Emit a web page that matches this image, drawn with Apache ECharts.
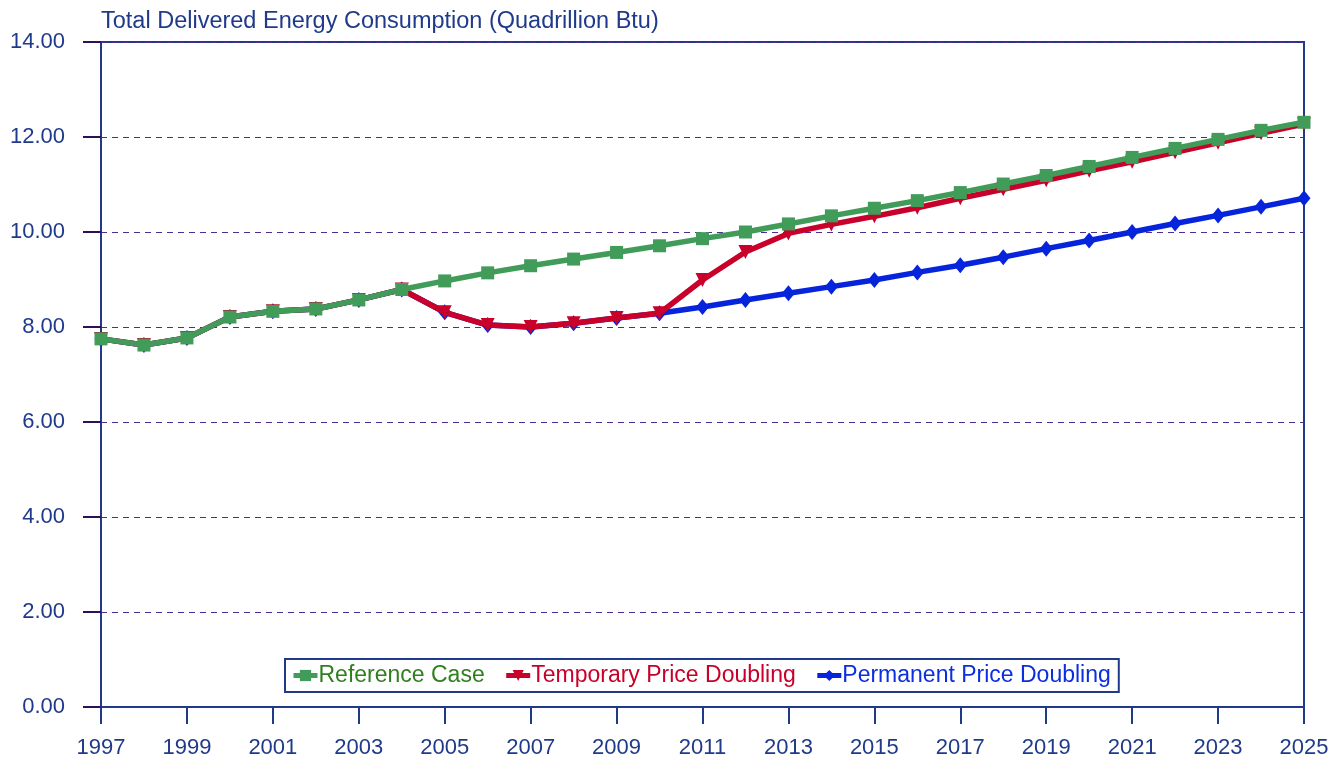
<!DOCTYPE html>
<html>
<head>
<meta charset="utf-8">
<style>
  html, body { margin: 0; padding: 0; background: #fff; }
  #chart { width: 1341px; height: 761px; }
</style>
<script src="https://cdn.jsdelivr.net/npm/echarts@6/dist/echarts.min.js"></script>
</head>
<body>
<div id="chart"></div>
<script>
const years = ['1997','1998','1999','2000','2001','2002','2003','2004','2005','2006','2007','2008','2009','2010',
  '2011','2012','2013','2014','2015','2016','2017','2018','2019','2020','2021','2022','2023','2024','2025']

const referenceCase = [7.75, 7.62, 7.77, 8.21, 8.33, 8.38, 8.57, 8.79, 8.97, 9.14, 9.29, 9.43, 9.57, 9.71,
  9.86, 10.00, 10.17, 10.34, 10.50, 10.66, 10.83, 11.01, 11.19, 11.38, 11.57, 11.76, 11.95, 12.14, 12.31]
const temporaryDoubling = [7.75, 7.62, 7.77, 8.21, 8.33, 8.38, 8.57, 8.79, 8.31, 8.04, 8.00, 8.08, 8.19, 8.29,
  8.99, 9.58, 9.97, 10.16, 10.33, 10.51, 10.71, 10.90, 11.09, 11.29, 11.48, 11.68, 11.88, 12.08, 12.27]
const permanentDoubling = [7.75, 7.62, 7.77, 8.21, 8.33, 8.38, 8.57, 8.79, 8.31, 8.04, 8.00, 8.08, 8.19, 8.29,
  8.42, 8.57, 8.71, 8.85, 8.99, 9.15, 9.30, 9.47, 9.65, 9.82, 10.00, 10.18, 10.35, 10.53, 10.71]

const navy = '#1f3a8a'
const font = 'Liberation Sans, Arial, sans-serif'

const chart = echarts.init(document.getElementById('chart'))

chart.setOption({
  animation: false,
  title: {
    text: 'Total Delivered Energy Consumption (Quadrillion Btu)',
    left: 101,
    top: 10,
    padding: 0,
    textStyle: { color: navy, fontSize: 23.5, fontWeight: 'normal', fontFamily: font }
  },
  grid: {
    left: 101, right: 37, top: 42, bottom: 54,
    show: true, borderColor: navy, borderWidth: 2, backgroundColor: 'transparent'
  },
  legend: {
    bottom: 69,
    left: 285,
    padding: [5, 8, 5, 6],
    itemGap: 19,
    itemWidth: 24,
    itemHeight: 14,
    borderColor: navy,
    borderWidth: 2,
    backgroundColor: '#fff',
    lineStyle: { width: 5 },
    textStyle: { fontSize: 23, fontFamily: font, padding: [0, 0, 0, -4] },
    data: [
      { name: 'Reference Case', textStyle: { color: '#2f7f1f' } },
      { name: 'Temporary Price Doubling', textStyle: { color: '#c8002a' } },
      { name: 'Permanent Price Doubling', textStyle: { color: '#0a2ee0' } }
    ]
  },
  xAxis: {
    type: 'category',
    data: years,
    boundaryGap: false,
    axisLine: { lineStyle: { color: navy, width: 2 } },
    axisTick: { interval: 1, length: 17, lineStyle: { color: navy, width: 2 } },
    axisLabel: { interval: 1, color: navy, fontSize: 22, fontFamily: font, margin: 30 },
    splitLine: { show: false }
  },
  yAxis: {
    type: 'value',
    min: 0,
    max: 14,
    interval: 2,
    axisLine: { show: true, lineStyle: { color: navy, width: 2 } },
    axisTick: { show: true, length: 18, lineStyle: { color: '#2d0f5a', width: 2 } },
    axisLabel: {
      color: navy, fontSize: 22, fontFamily: font, margin: 36,
      formatter: v => v.toFixed(2)
    },
    splitLine: { show: true, lineStyle: { color: '#4b2d96', type: [6, 5], width: 1 } }
  },
  series: [
    {
      name: 'Permanent Price Doubling',
      type: 'line',
      data: permanentDoubling,
      symbol: 'diamond',
      symbolSize: [13, 16],
      lineStyle: { color: '#0524dc', width: 5.5 },
      itemStyle: { color: '#0524dc' },
      z: 2
    },
    {
      name: 'Temporary Price Doubling',
      type: 'line',
      data: temporaryDoubling,
      symbol: 'triangle',
      symbolRotate: 180,
      symbolSize: [14, 14],
      lineStyle: { color: '#c8002a', width: 5.5 },
      itemStyle: { color: '#c8002a' },
      z: 3
    },
    {
      name: 'Reference Case',
      type: 'line',
      data: referenceCase,
      symbol: 'rect',
      symbolSize: 13,
      lineStyle: { color: '#419b59', width: 5.5 },
      itemStyle: { color: '#419b59' },
      z: 4
    }
  ]
})
</script>
</body>
</html>
